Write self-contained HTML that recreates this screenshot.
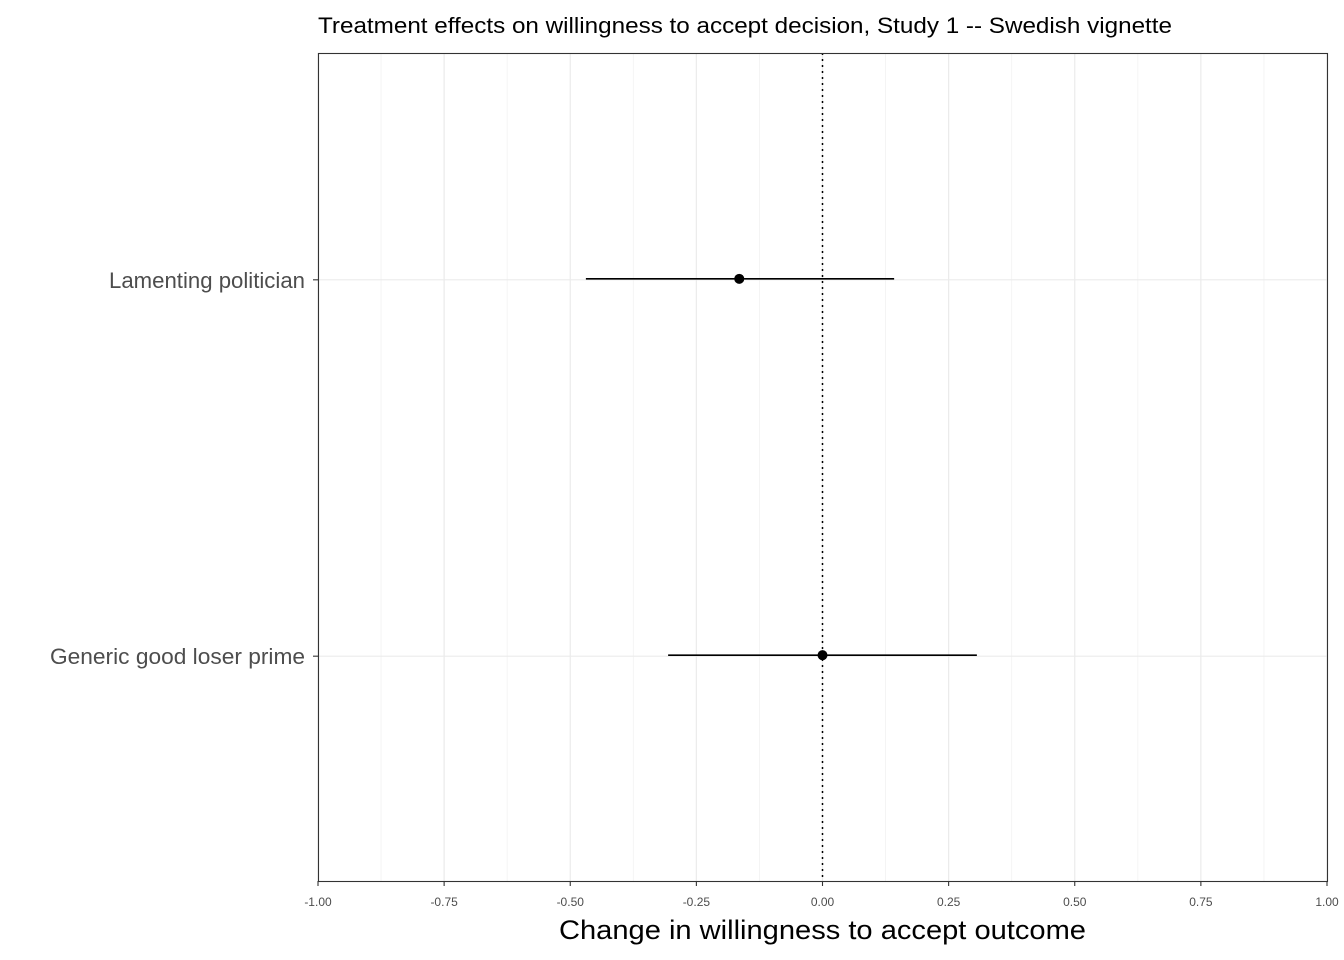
<!DOCTYPE html>
<html><head><meta charset="utf-8"><style>
html,body{margin:0;padding:0;background:#fff;}
svg{display:block;font-family:"Liberation Sans",Arial,sans-serif;}
</style></head><body>
<svg id="chart" width="1344" height="960">
<text x="318" y="33" font-size="22" textLength="854" lengthAdjust="spacingAndGlyphs" fill="#000">Treatment effects on willingness to accept decision, Study 1 -- Swedish vignette</text>
<g id="grid"></g>
<g id="marks"></g>
<rect x="318.5" y="53.5" width="1009" height="828" fill="none" stroke="#333" stroke-width="1.1"/>
<g id="axes"></g>
<text x="559" y="939" font-size="27" textLength="527" lengthAdjust="spacingAndGlyphs" fill="#000">Change in willingness to accept outcome</text>
</svg>
<script>
const categories = ["Generic good loser prime", "Lamenting politician"];
const estimates = [0.0, -0.165];
const lower = [-0.306, -0.469];
const upper = [0.306, 0.142];
const xTicks = [-1, -0.75, -0.5, -0.25, 0, 0.25, 0.5, 0.75, 1];
const xTickLabels = ["-1.00","-0.75","-0.50","-0.25","0.00","0.25","0.50","0.75","1.00"];
const labelWidths = [255, 196];

const L=318, R=1327, T=53, B=881;
const x = v => L + (v + 1) / 2 * (R - L);
const y = i => B - (i + 1 - 0.4) / 2.2 * (B - T) + 1;
const NS="http://www.w3.org/2000/svg";
function mk(parent, tag, attrs){const e=document.createElementNS(NS,tag);for(const k in attrs)e.setAttribute(k,attrs[k]);parent.appendChild(e);return e;}
const grid=document.getElementById('grid'), marks=document.getElementById('marks'), axes=document.getElementById('axes');

for(let i=0;i<xTicks.length-1;i++){
  const m=(xTicks[i]+xTicks[i+1])/2;
  const g=mk(grid,'line',{x1:x(m),x2:x(m),y1:T,y2:B,stroke:'#f2f2f2','stroke-width':0.8});
  
  
}
xTicks.forEach((t,i)=>{
  const g=mk(grid,'line',{x1:x(t),x2:x(t),y1:T,y2:B,stroke:'#ebebeb','stroke-width':1.2});
  
  
  const tk=mk(axes,'line',{x1:x(t),x2:x(t),y1:B,y2:B+5,stroke:'#333','stroke-width':1.1});
  
  
  const lb=mk(axes,'text',{x:x(t),y:B+25,'font-size':12,'text-anchor':'middle',fill:'#4d4d4d'});
  lb.textContent=xTickLabels[i];
  
  
});
categories.forEach((c,i)=>{
  const g=mk(grid,'line',{x1:L,x2:R,y1:y(i),y2:y(i),stroke:'#ebebeb','stroke-width':1.2});
  
  
  const tk=mk(axes,'line',{x1:L-5,x2:L,y1:y(i),y2:y(i),stroke:'#333','stroke-width':1.1});
  
  
  const lb=mk(axes,'text',{x:L-13-labelWidths[i],y:y(i)+8,'font-size':22,textLength:labelWidths[i],lengthAdjust:'spacingAndGlyphs',fill:'#4d4d4d'});
  lb.textContent=c;
  
  
});
const z=mk(marks,'line',{x1:x(0),x2:x(0),y1:T,y2:B,stroke:'#000','stroke-width':1.5,'stroke-dasharray':'2,4'});


categories.forEach((c,i)=>{
  const ci=mk(marks,'line',{x1:x(lower[i]),x2:x(upper[i]),y1:y(i)-1,y2:y(i)-1,stroke:'#000','stroke-width':1.6});
  
  
  const p=mk(marks,'circle',{cx:x(estimates[i]),cy:y(i)-1,r:5,fill:'#000'});
  
  
});
</script>
</body></html>
